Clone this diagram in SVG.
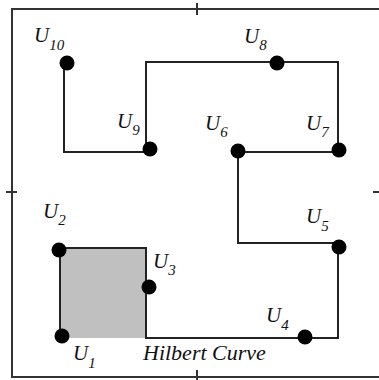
<svg xmlns="http://www.w3.org/2000/svg" width="379" height="380" viewBox="0 0 379 380">
<style>
.frame{fill:none;stroke:#333;stroke-width:2}
.curve{fill:none;stroke:#222;stroke-width:2}
.dot{fill:#000}
.lbl{font-family:"Liberation Serif","Times New Roman",serif;font-style:italic;font-size:21px;fill:#111}
.sub{font-size:15px}
.cap{font-size:22px}
</style>
<rect width="379" height="380" fill="#fff"/>
<g id="frame">
<path class="frame" d="M390,9 H12 V377 H390"/>
<path class="frame" d="M197,3 V15 M197,370 V380 M6,192 H17 M373,192 H379"/>
</g>
<g id="square"><rect x="60" y="248" width="86" height="90" fill="#c0c0c0"/></g>
<g id="connectors">
<polyline class="curve" points="64,63 64,152 146,152 146,62 338,62 338,152 238,152 238,243 338,243 338,338 146,338 146,248 60,248 60,338"/>
</g>
<g id="U1"><circle class="dot" cx="62" cy="336" r="7.5"/><text class="lbl" x="73" y="360">U<tspan class="sub" dy="8">1</tspan></text></g>
<g id="U2"><circle class="dot" cx="59" cy="250" r="7.5"/><text class="lbl" x="43" y="218">U<tspan class="sub" dy="7">2</tspan></text></g>
<g id="U3"><circle class="dot" cx="149" cy="287" r="7.5"/><text class="lbl" x="153" y="268">U<tspan class="sub" dy="7">3</tspan></text></g>
<g id="U4"><circle class="dot" cx="305" cy="337" r="7.5"/><text class="lbl" x="266" y="322">U<tspan class="sub" dy="8">4</tspan></text></g>
<g id="U5"><circle class="dot" cx="339" cy="247" r="7.5"/><text class="lbl" x="306" y="223">U<tspan class="sub" dy="8">5</tspan></text></g>
<g id="U6"><circle class="dot" cx="238" cy="151" r="7.5"/><text class="lbl" x="205" y="130">U<tspan class="sub" dy="7">6</tspan></text></g>
<g id="U7"><circle class="dot" cx="339" cy="150" r="7.5"/><text class="lbl" x="306" y="130">U<tspan class="sub" dy="7">7</tspan></text></g>
<g id="U8"><circle class="dot" cx="277" cy="63" r="7.5"/><text class="lbl" x="244" y="43">U<tspan class="sub" dy="7">8</tspan></text></g>
<g id="U9"><circle class="dot" cx="150" cy="149" r="7.5"/><text class="lbl" x="117" y="128">U<tspan class="sub" dy="7">9</tspan></text></g>
<g id="U10"><circle class="dot" cx="67" cy="63" r="7.5"/><text class="lbl" x="34" y="42">U<tspan class="sub" dy="8">10</tspan></text></g>
<g id="caption"><text class="lbl cap" x="143" y="360">Hilbert Curve</text></g>
</svg>
